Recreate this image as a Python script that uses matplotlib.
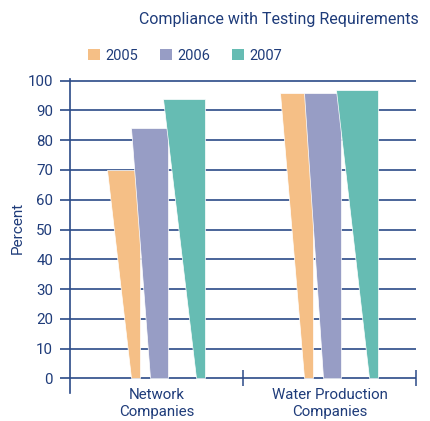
import matplotlib
matplotlib.use('Agg')
from matplotlib import pyplot as plt
from matplotlib.patches import Polygon, Patch

# values
categories = ['Network\nCompanies', 'Water Production\nCompanies']
years = ['2005', '2006', '2007']
values_2005 = [70, 96]
values_2006 = [84, 96]
values_2007 = [94, 97]
series = [values_2005, values_2006, values_2007]

colors = ['#F5BF86', '#979DC5', '#66BCB3']
navy = '#1F3C7A'
grid_c = '#2B4A88'

# tapered bar shape per series: right edge offset from category centre,
# width at the base and width at the top (x data units)
right_off = [-0.095, 0.069, 0.283]
base_w = [0.055, 0.107, 0.052]
top_w = [0.194, 0.217, 0.246]

plt.rcParams['font.family'] = ['Roboto', 'DejaVu Sans']

fig = plt.figure(figsize=(4.31, 4.21), dpi=100)
ax = fig.add_axes([70 / 431, (421 - 393.2) / 421, 346 / 431, 314 / 421])

for s, vals in enumerate(series):
    for c, v in enumerate(vals):
        xc = c + 0.5
        r = xc + right_off[s]
        pts = [(r - base_w[s], 0), (r, 0), (r, v), (r - top_w[s], v)]
        ax.add_patch(Polygon(pts, closed=True, facecolor=colors[s],
                             edgecolor='white', linewidth=0.5, zorder=3))

ax.set_xlim(0, 2)
ax.set_ylim(-5, 100.5)
ax.set_yticks(range(0, 101, 10))
ax.yaxis.grid(True, color=grid_c, linewidth=1.2)
ax.set_axisbelow(True)

for side in ['top', 'right']:
    ax.spines[side].set_visible(False)
ax.spines['bottom'].set_position(('data', 0))
ax.spines['bottom'].set_visible(False)
ax.spines['left'].set_color(grid_c)
ax.spines['left'].set_linewidth(1.2)

ax.tick_params(axis='y', length=7.2, width=1.2, color=grid_c, pad=5,
               labelsize=10.8, labelcolor=navy)
ax.set_xticks([0.5, 1.5])
ax.set_xticklabels(categories, fontsize=10.8, color=navy, linespacing=1.3)
ax.set_xticks([1, 2], minor=True)
ax.tick_params(axis='x', which='major', length=0, pad=7)
ax.tick_params(axis='x', which='minor', direction='inout', length=12,
               width=1.1, color=grid_c)

ax.set_ylabel('Percent', fontsize=11, color=navy)
ax.yaxis.set_label_coords(-0.13, 0.526)

fig.text(0.646, 0.953, 'Compliance with Testing Requirements', fontsize=11.5,
         color=navy, ha='center', va='center')

handles = [Patch(facecolor=colors[i], edgecolor='none') for i in range(3)]
leg = fig.legend(handles, years, loc='center left', ncol=3,
                 bbox_to_anchor=(0.204, 0.868), frameon=False, fontsize=10.5,
                 handlelength=0.8, handleheight=0.8, handletextpad=0.4,
                 columnspacing=1.5, borderaxespad=0, borderpad=0)
for t in leg.get_texts():
    t.set_color(navy)

fig.savefig('out.png', dpi=100)
